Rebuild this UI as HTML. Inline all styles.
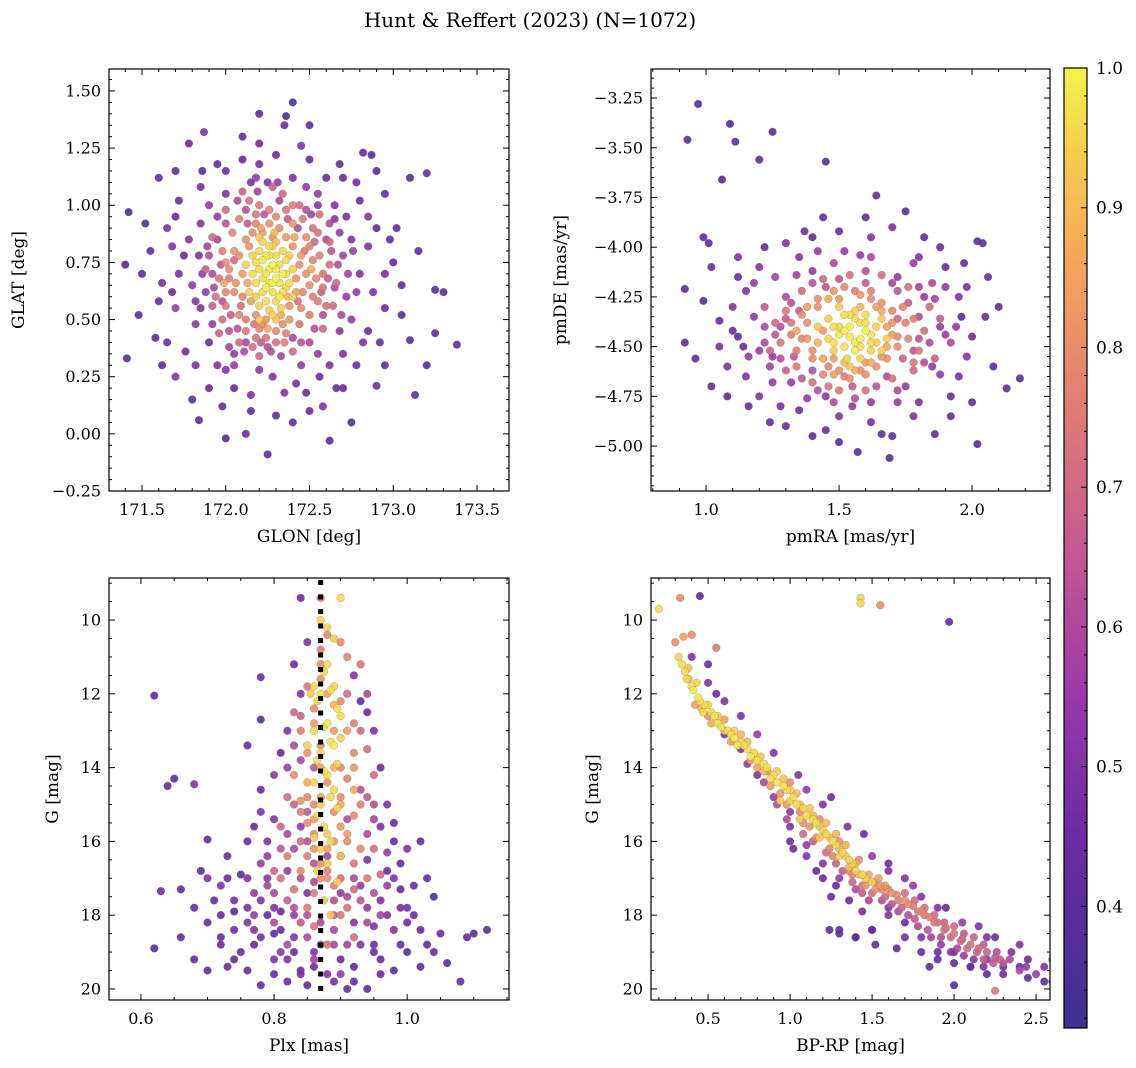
<!DOCTYPE html>
<html><head><meta charset="utf-8">
<style>
html,body{margin:0;padding:0;background:#fff;}
svg{display:block;font-family:"DejaVu Serif","Liberation Serif",serif;}
</style></head>
<body>
<svg id="fig" width="1136" height="1068" viewBox="0 0 1136 1068" xmlns="http://www.w3.org/2000/svg">
<defs>
<linearGradient id="cbg" x1="0" y1="1" x2="0" y2="0">
<stop offset="0" stop-color="#3d3291"/>
<stop offset="0.2" stop-color="#6b2aa2"/>
<stop offset="0.35" stop-color="#9a3aa8"/>
<stop offset="0.5" stop-color="#c45a90"/>
<stop offset="0.65" stop-color="#e07e74"/>
<stop offset="0.8" stop-color="#f5a65c"/>
<stop offset="0.92" stop-color="#f6d04e"/>
<stop offset="1" stop-color="#f2f44c"/>
</linearGradient>
</defs>
<text x="530" y="27" font-size="20" text-anchor="middle">Hunt &amp; Reffert (2023) (N=1072)</text>
</svg>
<script>
// ---------- data ----------
const tlPoints = [
[171.42,0.97,.38],[171.40,0.74,.38],[171.41,0.33,.4],[171.48,0.52,.42],[171.60,1.12,.45],[171.58,0.42,.4],[171.70,0.25,.5],[171.75,0.78,.45],[171.78,1.27,.45],[171.84,0.06,.42],[171.87,1.32,.5],[171.86,1.15,.4],[171.90,0.40,.45],[172.12,0.00,.45],[172.15,0.17,.5],[172.25,-0.09,.4],[172.20,1.27,.45],[172.35,1.35,.45],[172.40,1.45,.38],[172.36,1.39,.4],[172.45,1.26,.5],[172.50,0.10,.45],[172.62,-0.03,.4],[172.58,0.12,.5],[172.70,1.12,.45],[172.82,1.23,.45],[172.87,1.22,.4],[172.90,0.21,.45],[173.10,1.12,.4],[173.13,0.17,.4],[173.20,1.14,.45],[173.25,0.63,.4],[173.30,0.62,.4],[173.38,0.39,.4],[173.25,0.44,.45],[173.10,0.41,.4],[172.95,0.55,.45],[173.00,0.75,.45],[172.85,0.95,.5],[172.90,0.90,.4],[171.65,0.90,.5],[171.70,0.55,.55],[171.95,0.30,.5],[172.05,0.20,.45],[172.35,0.18,.5],[172.45,0.30,.55],[172.70,0.35,.5],[172.75,0.50,.55],[172.80,0.70,.5],[172.65,1.00,.5],[172.55,1.05,.55],[172.00,1.05,.5],[171.90,1.00,.55],[171.80,0.65,.55],[172.25,1.10,.5],[172.10,1.20,.45],[172.60,0.85,.6],[171.95,0.85,.6],[172.05,0.35,.55],[172.50,0.40,.6],
[171.55,0.80,.42],[171.62,0.66,.48],[171.52,0.92,.4],[171.72,1.02,.44],[171.82,0.48,.52],[171.76,0.36,.46],[171.98,0.12,.44],[172.20,0.28,.52],[172.30,0.08,.42],[172.42,0.22,.48],[172.56,0.25,.46],[172.66,0.20,.42],[172.78,0.30,.44],[172.92,0.40,.42],[173.05,0.52,.4],[173.02,0.90,.42],[172.95,1.05,.44],[172.78,1.10,.46],[172.68,1.18,.42],[172.30,1.22,.46],[172.15,1.10,.5],[171.95,1.18,.42],[171.85,0.92,.5],[171.92,0.70,.6],[171.98,0.58,.62],[172.02,0.45,.64],[172.12,0.40,.6],[172.25,0.38,.62],[172.40,0.42,.6],[172.58,0.52,.62],[172.65,0.64,.6],[172.70,0.78,.58],[172.62,0.92,.6],[172.48,0.98,.62],[172.32,1.02,.6],[172.12,0.98,.62],[172.00,0.92,.64],[171.90,0.78,.62],
[172.00,0.75,.8],[172.05,0.62,.8],[172.08,0.52,.78],[172.12,0.85,.8],[172.18,0.92,.78],[172.22,0.48,.8],[172.30,0.45,.78],[172.38,0.50,.82],[172.45,0.55,.8],[172.50,0.65,.8],[172.52,0.76,.78],[172.48,0.86,.8],[172.40,0.92,.82],[172.30,0.95,.78],[172.05,0.80,.82],[172.10,0.70,.84],[172.15,0.58,.84],[172.42,0.62,.84],[172.45,0.78,.84],[172.36,0.86,.84],[172.22,0.88,.84],[172.02,0.68,.76],[172.55,0.58,.76],[172.58,0.70,.74],[172.35,0.40,.76],[172.18,0.42,.74],[172.00,0.56,.74],[172.40,1.00,.76],[172.20,1.00,.74],[172.55,0.88,.74],
[172.18,0.75,.96],[172.22,0.68,.97],[172.26,0.72,.98],[172.30,0.78,.97],[172.34,0.70,.99],[172.28,0.62,.97],[172.24,0.58,.96],[172.32,0.60,.98],[172.38,0.66,.96],[172.36,0.76,.97],[172.20,0.80,.96],[172.16,0.70,.96],[172.26,0.82,.96],[172.30,0.68,1.0],[172.24,0.64,.99],[172.40,0.72,.95],[172.14,0.62,.95],[172.33,0.55,.95],[172.28,0.52,.95],[172.20,0.56,.94],
[172.02,0.72,.8],[172.06,0.66,.82],[172.08,0.78,.8],[172.10,0.60,.78],[172.12,0.50,.76],[172.14,0.82,.82],[172.16,0.88,.8],[172.18,0.52,.8],[172.20,0.46,.78],[172.24,0.50,.82],[172.26,0.92,.8],[172.28,0.86,.82],[172.32,0.90,.8],[172.34,0.48,.8],[172.38,0.56,.82],[172.40,0.82,.8],[172.42,0.68,.82],[172.44,0.74,.8],[172.46,0.62,.78],[172.48,0.70,.8],[172.50,0.82,.78],[172.52,0.60,.76],[172.54,0.68,.78],[172.56,0.78,.76],[172.58,0.64,.74],[172.60,0.56,.72],[172.62,0.74,.72],[172.00,0.62,.78],[171.98,0.80,.76],[171.96,0.68,.74],[171.94,0.60,.72],[171.98,0.50,.72],[172.04,0.88,.78],[172.08,0.94,.76],[172.12,0.45,.74],[172.16,0.38,.72],[172.24,0.42,.74],[172.30,0.40,.72],[172.36,0.44,.76],[172.44,0.48,.74],[172.50,0.52,.76],[172.52,0.90,.74],[172.46,0.94,.76],[172.36,0.98,.74],[172.26,0.98,.76],[172.18,0.96,.74],[172.14,1.02,.72],[172.34,1.05,.7],[172.44,1.00,.72],[172.56,0.96,.72],[172.62,0.84,.7],[172.66,0.66,.7],[172.64,0.56,.7],[172.58,0.46,.7],[172.40,0.36,.7],[172.20,0.34,.7],[172.08,0.40,.7],[171.96,0.44,.68],[171.92,0.56,.68],[171.88,0.72,.68],[171.92,0.86,.7],[172.00,0.98,.7],[172.10,1.06,.68],[172.28,1.08,.68],
[172.20,0.72,.97],[172.24,0.78,.98],[172.28,0.74,.99],[172.32,0.66,.98],[172.26,0.66,.97],[172.22,0.62,.96],[172.30,0.58,.96],[172.34,0.62,.97],[172.36,0.70,.96],[172.34,0.80,.96],[172.28,0.82,.95],[172.22,0.84,.95],[172.18,0.66,.96],[172.16,0.78,.95],[172.12,0.74,.94],[172.40,0.60,.94],[172.38,0.78,.94],[172.26,0.54,.94],[172.20,0.50,.93],[172.30,0.50,.93],
[171.85,0.55,.5],[171.78,0.85,.5],[171.72,0.70,.48],[171.68,0.62,.45],[171.82,0.30,.48],[172.00,0.28,.5],[172.28,0.25,.5],[172.48,0.18,.45],[172.62,0.30,.5],[172.85,0.45,.45],[172.88,0.62,.48],[172.75,0.85,.5],[172.72,0.95,.48],[172.60,1.12,.45],[172.40,1.12,.5],[172.20,1.18,.48],[172.00,1.15,.45],[171.85,1.08,.48],[171.70,0.95,.45],[171.65,0.40,.45],[171.90,0.20,.45],[172.15,0.10,.42],[172.40,0.05,.42],[172.70,0.20,.45],[172.95,0.30,.42],[173.05,0.65,.42],[172.98,0.85,.42],[172.80,1.02,.45],[172.50,1.20,.42],[172.10,1.30,.42],[171.95,0.95,.55],[171.88,0.62,.55],[172.05,0.30,.55],[172.55,0.35,.55],[172.72,0.60,.55],[172.68,0.88,.55],[172.48,1.08,.55],[172.18,1.12,.55],
[172.05,0.76,.7],[172.09,0.56,.72],[172.13,0.66,.86],[172.17,0.48,.74],[172.21,0.90,.86],[172.25,0.46,.86],[172.29,0.88,.9],[172.33,0.52,.88],[172.37,0.60,.9],[172.41,0.86,.86],[172.43,0.58,.72],[172.47,0.80,.74],[172.51,0.72,.86],[172.53,0.84,.7],[172.57,0.62,.68],[172.61,0.68,.66],[172.63,0.80,.64],[172.67,0.74,.62],[172.69,0.52,.6],[172.73,0.70,.58],[172.76,0.80,.56],[172.78,0.62,.55],[171.99,0.66,.86],[171.97,0.74,.66],[171.93,0.64,.6],[171.89,0.82,.58],[171.86,0.70,.55],[171.84,0.78,.5],[171.82,0.58,.52],[172.03,0.52,.66],[172.07,0.46,.64],[172.11,0.36,.6],[172.21,0.40,.66],[172.27,0.36,.62],[172.33,0.34,.6],[172.45,0.40,.64],[172.53,0.46,.62],[172.13,0.92,.66],[172.23,0.96,.64],[172.37,0.94,.66],[172.43,0.90,.62],[172.51,0.96,.58],[172.31,1.10,.55],[172.19,1.06,.58],[172.07,1.02,.6],[172.55,1.00,.52],[172.65,0.94,.52],[172.68,0.45,.52],[172.02,0.38,.58],[171.92,0.48,.55],
[172.22,0.76,.99],[172.26,0.78,.97],[172.30,0.72,.98],[172.24,0.70,.98],[172.28,0.66,.99],[172.32,0.74,.96],[172.18,0.60,.94],[172.36,0.64,.95],[172.20,0.86,.93],[172.30,0.84,.92],
[171.50,0.70,.4],[171.62,0.30,.4],[171.70,1.15,.42],[171.80,0.15,.4],[172.00,-0.02,.4],[172.20,1.40,.4],[172.50,1.35,.42],[172.75,0.05,.4],[172.90,1.15,.4],[173.15,0.80,.42],[173.20,0.30,.4],[172.95,0.70,.48],[172.85,0.82,.5],[172.82,0.40,.5],[171.60,0.58,.45],[171.68,0.82,.5]
];
const trPoints = [
[0.97,-3.28,.38],[0.93,-3.46,.4],[1.09,-3.38,.4],[1.11,-3.47,.42],[1.25,-3.42,.4],[1.20,-3.56,.42],[1.45,-3.57,.4],[1.64,-3.74,.42],[1.06,-3.66,.4],[0.99,-3.95,.42],[1.01,-3.98,.4],[0.92,-4.21,.4],[0.92,-4.48,.38],[0.96,-4.56,.42],[0.99,-4.27,.4],[1.12,-4.45,.4],[1.24,-4.88,.42],[1.40,-4.95,.4],[1.57,-5.03,.4],[1.66,-4.94,.42],[1.69,-5.06,.38],[1.86,-4.94,.42],[2.02,-4.99,.4],[2.18,-4.66,.4],[2.13,-4.71,.42],[2.04,-3.98,.4],[2.02,-3.97,.4],[1.97,-4.08,.42],[1.75,-3.82,.4],[1.44,-3.85,.45],[1.37,-3.92,.45],[1.30,-3.98,.5],[1.12,-4.05,.5],[1.15,-4.22,.5],[1.05,-4.37,.45],[1.08,-4.60,.5],[1.20,-4.75,.5],[1.35,-4.82,.45],[1.50,-4.85,.5],[1.78,-4.85,.5],[1.92,-4.75,.45],[1.98,-4.55,.5],[2.05,-4.35,.45],[1.95,-4.25,.5],[1.90,-4.10,.45],[1.80,-4.05,.5],[1.62,-3.95,.5],[1.52,-4.02,.55],[1.02,-4.10,.45],[1.18,-4.35,.55],[1.25,-4.55,.55],[1.32,-4.68,.55],[1.45,-4.75,.55],[1.62,-4.78,.55],[1.75,-4.70,.55],[1.85,-4.60,.55],[1.88,-4.40,.55],[1.82,-4.25,.55],[1.72,-4.15,.55],[1.40,-4.12,.55],[1.30,-4.25,.6],
[1.28,-4.40,.62],[1.33,-4.55,.64],[1.40,-4.62,.62],[1.55,-4.70,.66],[1.68,-4.65,.62],[1.78,-4.52,.64],[1.80,-4.35,.62],[1.72,-4.22,.64],[1.60,-4.18,.66],[1.45,-4.20,.64],[1.35,-4.32,.66],[1.22,-4.48,.6],[1.92,-4.48,.6],[1.85,-4.18,.6],[1.48,-4.08,.6],[1.62,-4.05,.6],
[1.38,-4.38,.8],[1.40,-4.52,.8],[1.46,-4.60,.78],[1.58,-4.62,.8],[1.66,-4.55,.82],[1.72,-4.45,.8],[1.70,-4.32,.78],[1.62,-4.26,.8],[1.50,-4.26,.82],[1.42,-4.30,.8],[1.36,-4.46,.78],[1.52,-4.65,.76],[1.75,-4.38,.76],[1.56,-4.22,.76],[1.44,-4.42,.84],[1.68,-4.40,.84],[1.60,-4.58,.84],[1.48,-4.56,.84],[1.64,-4.30,.84],[1.32,-4.38,.74],[1.78,-4.58,.74],[1.46,-4.70,.74],
[1.50,-4.40,.96],[1.54,-4.45,.98],[1.58,-4.38,.97],[1.62,-4.48,.96],[1.56,-4.52,.99],[1.52,-4.34,.97],[1.60,-4.42,1.0],[1.48,-4.48,.96],[1.64,-4.40,.95],[1.56,-4.32,.95],[1.66,-4.52,.95],[1.46,-4.36,.94],[1.53,-4.56,.95],[1.58,-4.46,.99],
[1.36,-4.34,.8],[1.38,-4.46,.82],[1.40,-4.56,.8],[1.42,-4.26,.8],[1.44,-4.64,.78],[1.48,-4.22,.82],[1.50,-4.62,.8],[1.52,-4.20,.78],[1.54,-4.66,.8],[1.58,-4.24,.82],[1.60,-4.64,.8],[1.62,-4.22,.78],[1.64,-4.60,.82],[1.66,-4.28,.8],[1.68,-4.56,.8],[1.70,-4.38,.82],[1.72,-4.50,.8],[1.74,-4.30,.78],[1.76,-4.46,.78],[1.78,-4.36,.76],[1.80,-4.52,.74],[1.34,-4.52,.76],[1.32,-4.44,.76],[1.30,-4.32,.74],[1.28,-4.48,.72],[1.34,-4.60,.74],[1.40,-4.68,.72],[1.50,-4.72,.74],[1.60,-4.72,.72],[1.70,-4.66,.72],[1.78,-4.62,.7],[1.82,-4.42,.72],[1.84,-4.30,.7],[1.76,-4.20,.72],[1.66,-4.14,.7],[1.54,-4.14,.72],[1.44,-4.16,.7],[1.36,-4.22,.7],[1.26,-4.38,.7],[1.24,-4.52,.68],[1.30,-4.62,.68],[1.86,-4.56,.68],[1.88,-4.36,.66],[1.22,-4.30,.66],
[1.50,-4.44,.98],[1.54,-4.40,.99],[1.58,-4.50,.97],[1.62,-4.44,.98],[1.56,-4.36,.96],[1.52,-4.50,.97],[1.48,-4.40,.96],[1.60,-4.34,.96],[1.64,-4.48,.95],[1.46,-4.46,.95],[1.58,-4.56,.95],[1.50,-4.30,.94],[1.66,-4.36,.94],[1.42,-4.40,.93],[1.54,-4.60,.93],[1.68,-4.46,.94],
[1.20,-4.10,.5],[1.10,-4.30,.5],[1.05,-4.50,.48],[1.15,-4.65,.5],[1.28,-4.80,.48],[1.45,-4.92,.45],[1.62,-4.88,.48],[1.80,-4.78,.5],[1.95,-4.65,.48],[2.00,-4.45,.45],[1.98,-4.20,.48],[1.88,-4.00,.45],[1.70,-3.90,.48],[1.50,-3.92,.45],[1.35,-4.05,.5],[1.18,-4.18,.55],[1.16,-4.55,.55],[1.25,-4.68,.55],[1.38,-4.76,.55],[1.55,-4.80,.55],[1.72,-4.78,.55],[1.88,-4.64,.55],[1.94,-4.40,.55],[1.90,-4.20,.55],[1.78,-4.08,.55],[1.58,-4.04,.55],[1.42,-4.02,.55],[1.26,-4.15,.58],[1.10,-4.42,.45],[2.08,-4.60,.42],[2.10,-4.30,.42],[1.02,-4.70,.42],
[1.34,-4.42,.86],[1.38,-4.30,.84],[1.42,-4.48,.88],[1.44,-4.56,.86],[1.46,-4.26,.86],[1.48,-4.64,.84],[1.52,-4.58,.9],[1.56,-4.62,.88],[1.58,-4.30,.9],[1.62,-4.58,.88],[1.66,-4.32,.86],[1.68,-4.50,.86],[1.70,-4.44,.84],[1.72,-4.36,.7],[1.74,-4.56,.68],[1.76,-4.28,.66],[1.80,-4.46,.64],[1.82,-4.58,.62],[1.84,-4.48,.6],[1.86,-4.26,.58],[1.90,-4.44,.56],[1.26,-4.44,.64],[1.28,-4.56,.62],[1.30,-4.36,.66],[1.32,-4.28,.62],[1.24,-4.60,.58],[1.22,-4.40,.6],[1.20,-4.52,.56],[1.36,-4.66,.64],[1.42,-4.72,.62],[1.48,-4.78,.6],[1.56,-4.76,.62],[1.64,-4.70,.64],[1.72,-4.72,.6],[1.40,-4.18,.62],[1.50,-4.16,.64],[1.60,-4.12,.62],[1.70,-4.18,.6],[1.80,-4.20,.58],[1.34,-4.14,.58],
[1.52,-4.42,.99],[1.56,-4.48,.98],[1.60,-4.38,.97],[1.54,-4.34,.96],[1.62,-4.52,.95],[1.48,-4.52,.94],
[1.14,-4.50,.45],[1.12,-4.15,.45],[1.22,-4.00,.42],[1.40,-3.95,.42],[1.60,-3.85,.42],[1.82,-3.95,.42],[1.96,-4.35,.42],[1.92,-4.85,.42],[1.70,-4.95,.42],[1.50,-4.98,.4],[1.30,-4.90,.42],[1.08,-4.75,.4],[2.00,-4.78,.42],[1.16,-4.80,.45],[2.06,-4.15,.45]
];
const blPoints = [
[0.62,12.05,.4],[0.64,14.50,.42],[0.65,14.30,.4],[0.68,14.45,.5],[0.63,17.35,.45],[0.62,18.90,.4],[0.66,17.30,.42],[0.70,15.95,.4],[0.70,19.50,.42],[0.72,18.80,.45],[0.74,17.90,.4],[0.76,13.40,.45],[0.78,11.55,.45],[0.78,12.70,.42],[0.80,18.50,.4],[0.82,19.80,.45],[0.84,9.40,.45],[0.85,10.60,.5],[0.94,20.00,.42],[0.96,19.60,.45],[1.00,19.00,.4],[1.02,16.00,.42],[1.04,17.50,.4],[1.05,18.50,.45],[1.06,19.30,.4],[1.08,19.80,.42],[1.10,18.50,.4],[1.12,18.40,.4],[1.09,18.60,.45],[1.03,17.00,.42],[0.98,15.50,.45],[0.96,14.00,.45],[0.94,12.50,.45],[0.92,11.50,.5],[0.95,13.00,.5],
[0.68,17.80,.45],[0.72,17.20,.5],[0.74,18.40,.45],[0.76,17.00,.5],[0.77,18.80,.45],[0.78,17.60,.5],[0.79,16.40,.55],[0.80,19.20,.5],[0.81,17.90,.45],[0.82,16.80,.55],[0.83,18.60,.5],[0.84,15.60,.55],[0.85,17.40,.5],[0.86,19.00,.5],[0.90,19.20,.45],[0.92,18.20,.5],[0.93,17.20,.55],[0.94,16.50,.5],[0.95,18.80,.45],[0.96,17.60,.5],[0.97,16.80,.45],[0.98,18.40,.5],[0.99,17.30,.45],[1.00,16.20,.5],[1.01,18.00,.45],[1.02,19.40,.42],[0.97,15.00,.5],[0.78,15.20,.5],[0.76,16.00,.45],[0.80,14.20,.55],[0.82,13.00,.5],[0.73,16.40,.45],[0.70,18.20,.45],[0.88,19.60,.5],[0.91,20.00,.45],[0.84,19.50,.45],
[0.83,16.20,.6],[0.84,17.00,.62],[0.85,15.20,.64],[0.86,16.60,.62],[0.87,18.20,.6],[0.89,17.60,.62],[0.90,16.40,.64],[0.91,15.40,.62],[0.92,17.00,.6],[0.93,14.60,.62],[0.89,18.80,.6],[0.86,14.00,.64],[0.84,13.80,.6],[0.94,15.80,.6],[0.82,15.80,.6],[0.85,18.00,.62],
[0.85,14.80,.78],[0.86,15.80,.8],[0.87,13.40,.8],[0.88,14.40,.82],[0.89,15.20,.8],[0.90,14.00,.78],[0.91,16.00,.8],[0.92,13.60,.78],[0.86,12.40,.8],[0.87,11.60,.82],[0.90,12.20,.8],[0.88,16.80,.78],[0.89,17.20,.76],[0.86,17.40,.76],[0.91,17.80,.74],[0.84,15.20,.76],[0.93,15.00,.76],[0.88,10.40,.78],[0.90,10.60,.8],[0.87,11.20,.8],[0.89,13.00,.84],[0.87,14.80,.84],[0.90,15.60,.82],[0.85,16.40,.76],[0.92,16.60,.74],[0.87,9.40,.78],[0.91,11.00,.78],
[0.87,12.00,.97],[0.88,12.80,.98],[0.87,13.60,.96],[0.88,14.20,.97],[0.86,13.00,.96],[0.89,11.80,.95],[0.88,11.20,.96],[0.87,15.00,.95],[0.89,14.60,.96],[0.88,15.80,.95],[0.86,14.40,.95],[0.89,13.40,.99],[0.88,10.20,.95],[0.90,9.40,.96],[0.88,16.60,.94],[0.87,16.20,.95],[0.85,13.40,.95],[0.90,12.60,.96],
[0.875,11.4,.96],[0.885,11.9,.97],[0.865,12.2,.95],[0.895,12.4,.96],[0.875,12.9,.97],[0.885,13.3,.98],[0.865,13.8,.96],[0.895,13.9,.95],[0.875,14.1,.97],[0.885,14.8,.96],[0.865,15.3,.95],[0.895,15.1,.95],[0.875,15.6,.96],[0.885,16.0,.95],[0.865,16.8,.94],[0.895,17.1,.94],[0.875,17.6,.93],[0.885,18.0,.93],[0.86,15.9,.94],[0.90,13.2,.95],[0.855,12.0,.94],[0.90,16.4,.93],[0.87,10.0,.95],[0.89,10.5,.94],[0.86,11.8,.95],
[0.83,14.2,.8],[0.84,14.9,.82],[0.85,15.5,.8],[0.86,15.0,.78],[0.87,16.6,.8],[0.88,17.0,.8],[0.89,16.0,.82],[0.90,14.8,.8],[0.91,14.3,.78],[0.92,15.3,.8],[0.93,16.2,.78],[0.94,17.0,.76],[0.84,16.8,.78],[0.85,17.8,.76],[0.83,17.3,.74],[0.82,16.4,.76],[0.86,18.3,.74],[0.90,18.0,.74],[0.92,18.6,.72],[0.88,18.8,.72],[0.81,17.0,.72],[0.80,16.8,.7],[0.95,16.2,.72],[0.96,16.9,.7],[0.84,13.0,.76],[0.92,12.8,.76],[0.85,11.8,.74],[0.91,12.0,.72],[0.87,10.8,.76],[0.83,12.5,.7],[0.94,13.5,.72],[0.95,14.2,.7],[0.82,14.8,.72],[0.81,15.6,.7],[0.93,11.2,.74],
[0.70,17.0,.5],[0.72,18.0,.45],[0.74,17.6,.48],[0.75,19.0,.45],[0.76,18.2,.5],[0.77,17.4,.55],[0.78,18.6,.48],[0.79,17.0,.52],[0.80,17.8,.5],[0.81,18.4,.45],[0.82,19.2,.5],[0.83,18.0,.55],[0.84,19.6,.48],[0.86,19.4,.45],[0.89,19.8,.48],[0.90,17.4,.55],[0.92,19.4,.45],[0.93,18.8,.5],[0.94,17.8,.55],[0.95,18.3,.5],[0.96,19.2,.45],[0.97,18.0,.5],[0.98,17.0,.5],[0.99,18.8,.45],[1.00,17.8,.48],[1.02,18.4,.45],[1.04,19.0,.45],[0.66,18.6,.42],[0.68,19.2,.42],[0.73,19.4,.45],[0.78,19.9,.42],[0.79,16.0,.5],[0.80,15.4,.5],[0.96,15.6,.5],[0.97,16.3,.55],[0.99,16.6,.45],[0.75,16.9,.42],[0.71,17.6,.42],[0.81,13.6,.45],[0.83,11.2,.45],[0.93,12.2,.45],[0.84,12.0,.5],[0.88,16.4,.6],[0.86,17.1,.6],[0.91,17.5,.6],[0.85,16.0,.62],[0.89,18.4,.6],[0.82,18.8,.6],
[0.85,14.4,.86],[0.86,15.4,.84],[0.87,14.0,.86],[0.89,14.0,.88],[0.90,15.0,.86],[0.91,15.8,.84],[0.92,14.0,.82],[0.88,16.2,.84],[0.87,17.0,.8],[0.86,16.2,.82],[0.84,16.0,.7],[0.83,15.0,.68],[0.82,17.6,.66],[0.81,16.2,.64],[0.80,17.4,.6],[0.94,14.8,.66],[0.95,15.0,.62],[0.93,17.6,.64],[0.94,18.2,.6],[0.91,18.8,.58],[0.85,18.6,.6],[0.84,18.2,.66],[0.83,17.8,.62],[0.92,17.3,.7],[0.90,17.0,.72],[0.89,18.0,.68],[0.87,18.8,.62],[0.86,19.2,.58],[0.90,19.6,.55],[0.95,17.4,.62],[0.96,18.0,.58],[0.97,17.2,.56],[0.79,17.2,.58],[0.78,16.6,.56],[0.77,18.0,.55],[0.80,18.2,.6],[0.81,19.0,.52],[0.88,12.0,.86],[0.86,12.8,.84],[0.91,13.0,.84],[0.89,12.3,.9],[0.85,13.6,.82],[0.92,14.6,.86],[0.93,13.0,.7],[0.84,12.6,.68],[0.94,12.0,.6],[0.83,13.4,.6],[0.95,15.4,.58],[0.82,14.0,.56],
[0.72,18.6,.42],[0.74,19.2,.42],[0.76,19.5,.45],[0.77,18.4,.5],[0.79,18.0,.45],[0.80,19.6,.42],[0.83,19.0,.45],[0.85,19.9,.42],[0.92,19.8,.42],[0.95,19.0,.45],[0.98,19.5,.42],[1.00,18.2,.45],[1.01,17.2,.42],[1.03,18.8,.42],[0.69,16.8,.42],[0.73,17.0,.45],[0.76,17.8,.48],[0.98,16.0,.45],[0.99,17.8,.48],[0.77,15.6,.45],[0.78,14.6,.45]
];
const brPoints = [
[0.20,9.70,.97],[0.33,9.40,.8],[0.45,9.35,.4],[1.43,9.40,.95],[1.43,9.55,.95],[1.55,9.60,.8],[1.97,10.05,.45],[0.30,10.60,.8],[0.35,10.45,.85],[0.40,10.40,.8],[0.55,10.75,.75],
[0.32,11.00,.95],[0.36,11.40,.96],[0.40,11.80,.97],[0.44,12.10,.98],[0.48,12.30,.97],[0.52,12.50,.96],[0.56,12.80,.97],[0.62,13.00,.96],[0.66,13.20,.98],[0.72,13.40,.97],[0.78,13.60,.96],[0.84,13.90,.97],[0.90,14.20,.96],[0.96,14.50,.97],[1.02,14.80,.96],[1.08,15.10,.95],[1.14,15.40,.96],[1.20,15.70,.95],[1.26,16.00,.96],[1.32,16.30,.95],[1.38,16.60,.94],[1.44,16.90,.95],[1.50,17.10,.94],[0.38,11.60,.9],[0.42,12.30,.85],[0.50,12.60,.8],[0.60,12.70,.85],[0.70,13.10,.9],[0.76,13.80,.85],[0.86,14.10,.8],[0.94,14.70,.82],[1.00,14.40,.8],[1.06,15.20,.8],[1.12,15.60,.82],[1.18,15.40,.8],[1.24,16.20,.78],[1.30,16.00,.8],[1.36,16.80,.78],[1.42,16.50,.8],
[1.55,17.20,.82],[1.60,17.30,.8],[1.65,17.45,.78],[1.70,17.60,.8],[1.75,17.75,.76],[1.80,17.90,.78],[1.85,18.05,.76],[1.90,18.20,.74],[1.95,18.35,.72],[2.00,18.50,.74],[2.05,18.65,.7],[2.10,18.80,.72],[2.15,18.90,.7],[2.20,19.00,.68],[2.25,19.15,.66],[2.30,19.30,.64],[2.40,19.50,.6],[2.50,19.60,.55],[2.60,19.80,.5],[2.70,19.50,.45],[2.72,19.95,.45],[2.25,20.05,.75],
[1.40,17.30,.6],[1.30,17.00,.55],[1.20,16.60,.5],[1.10,16.10,.55],[1.00,15.60,.5],[1.60,17.80,.5],[1.70,18.20,.45],[1.80,18.60,.5],[1.90,19.00,.45],[2.00,19.30,.42],[2.10,19.40,.45],[2.20,19.60,.4],[1.50,18.40,.45],[1.40,18.60,.42],[1.30,18.40,.4],[1.50,16.40,.55],[1.60,16.80,.5],[1.35,15.60,.5],[1.20,15.00,.5],[1.10,14.60,.55],[0.90,13.60,.5],[0.80,13.10,.55],[0.60,12.20,.5],[0.50,11.70,.5],[1.75,17.20,.55],[1.90,17.80,.5],[2.05,18.20,.55],[2.20,18.60,.5],[2.35,19.00,.5],[2.45,19.20,.45],[2.00,19.90,.4],[1.65,18.90,.42],[1.85,19.40,.4],[2.30,19.60,.45],[1.45,15.80,.45],[1.25,14.80,.45],[1.05,14.20,.5],[0.70,12.60,.5],[2.55,19.40,.5],[2.40,18.80,.5],
[0.34,11.2,.97],[0.37,11.6,.96],[0.41,11.9,.98],[0.45,12.2,.97],[0.47,12.5,.96],[0.54,12.6,.98],[0.58,12.9,.97],[0.64,13.1,.96],[0.68,13.4,.97],[0.74,13.5,.96],[0.76,13.7,.98],[0.80,13.8,.96],[0.86,14.0,.97],[0.88,14.3,.96],[0.92,14.4,.97],[0.98,14.6,.96],[1.00,14.9,.95],[1.04,15.0,.96],[1.10,15.3,.95],[1.16,15.5,.96],[1.22,15.8,.95],[1.28,16.1,.95],[1.34,16.4,.94],[1.40,16.8,.94],[1.46,17.0,.93],[1.36,16.5,.95],[1.30,16.4,.94],[1.18,15.9,.93],[1.06,15.4,.93],[0.94,14.9,.93],
[1.52,17.1,.8],[1.56,17.3,.78],[1.62,17.4,.8],[1.66,17.6,.76],[1.72,17.7,.78],[1.78,17.9,.76],[1.82,18.0,.74],[1.88,18.2,.74],[1.94,18.4,.72],[1.98,18.6,.7],[2.04,18.7,.7],[2.08,18.9,.7],[2.14,19.0,.68],[2.18,19.2,.66],[2.24,19.3,.64],[2.28,19.2,.66],[1.58,17.5,.7],[1.68,17.8,.68],[1.76,18.1,.66],[1.84,18.4,.64],[1.92,18.6,.62],[2.02,18.9,.6],[1.50,17.4,.72],[1.44,17.2,.74],[1.38,16.9,.76],[1.26,16.4,.78],[1.16,15.9,.8],[1.08,15.5,.8],[0.98,15.0,.82],[0.88,14.5,.84],[0.80,14.0,.86],[0.64,13.3,.84],[0.52,12.8,.86],
[1.10,16.4,.5],[1.20,17.0,.45],[1.25,17.5,.45],[1.30,18.5,.42],[1.40,18.6,.42],[1.50,18.4,.45],[1.60,18.0,.5],[1.70,18.6,.48],[1.80,19.0,.45],[1.90,19.2,.42],[2.00,19.0,.45],[2.10,19.4,.45],[2.20,19.2,.5],[2.30,19.4,.45],[2.40,19.4,.45],[2.45,19.7,.42],[2.55,19.8,.42],[2.60,19.2,.5],[0.70,13.5,.5],[0.60,13.1,.5],[0.80,14.2,.5],[0.90,14.8,.55],[1.00,15.2,.55],[1.00,16.0,.45],[1.60,16.6,.45],[1.70,17.0,.5],[1.80,17.5,.5],[1.95,17.8,.45],[2.15,18.3,.5],[2.25,18.6,.45],[0.40,11.0,.5],[0.50,11.2,.45],[0.55,12.0,.45],
[0.38,11.3,.92],[0.43,11.7,.95],[0.46,12.4,.9],[0.50,12.3,.96],[0.56,12.6,.94],[0.60,13.0,.92],[0.66,13.0,.95],[0.70,13.3,.94],[0.74,13.3,.9],[0.82,13.7,.93],[0.84,14.1,.9],[0.92,14.1,.94],[0.96,14.3,.92],[1.00,14.6,.94],[1.04,14.7,.9],[1.06,15.0,.92],[1.12,15.1,.93],[1.14,15.3,.9],[1.18,15.6,.93],[1.22,15.5,.9],[1.24,15.9,.92],[1.28,15.8,.88],[1.30,16.2,.9],[1.34,16.1,.88],[1.36,16.7,.9],[1.40,16.6,.88],[1.42,16.9,.9],[1.48,16.9,.86],[1.46,17.2,.82],[1.52,17.3,.8],[1.54,17.0,.84],[1.58,17.2,.82],[1.08,15.8,.7],[1.14,16.0,.66],[1.22,16.3,.7],[1.28,16.6,.68],[1.32,16.8,.66],[1.38,17.1,.68],[1.44,17.4,.66],[1.48,17.6,.6],[1.56,17.6,.62],[1.62,17.7,.64],[1.66,17.9,.6],[1.72,18.0,.62],[1.78,18.3,.6],[1.86,18.6,.58],[1.92,18.8,.55],[1.98,19.0,.52],[2.06,19.1,.55],[2.12,19.2,.52],[2.18,19.4,.5],[1.70,17.4,.72],[1.76,17.6,.7],[1.82,17.8,.72],[1.88,18.0,.7],[1.94,18.2,.68],[2.00,18.3,.7],[2.06,18.5,.66],[2.12,18.6,.68],[2.18,18.8,.64],[2.26,19.0,.62],[2.34,19.2,.6],[2.44,19.4,.55],[0.98,15.4,.6],[0.92,15.0,.62],[0.84,14.4,.6],[0.74,13.9,.55],[1.02,16.2,.45],[1.16,16.8,.42],[1.28,17.2,.45],[1.36,17.6,.45],[1.44,17.9,.48],[1.24,18.4,.42],[1.52,18.8,.42]
];
const cbTicks = [0.4,0.5,0.6,0.7,0.8,0.9,1.0];
const cbMin = 0.313, cbMax = 1.0;

// ---------- helpers ----------
const NS = "http://www.w3.org/2000/svg";
const fig = document.getElementById('fig');
function mk(tag, attrs, parent){const e=document.createElementNS(NS,tag);for(const k in attrs)e.setAttribute(k,attrs[k]);(parent||fig).appendChild(e);return e;}
const stops=[[0,[61,50,145]],[0.2,[107,42,162]],[0.35,[154,58,168]],[0.5,[196,90,144]],[0.65,[224,126,116]],[0.8,[245,166,92]],[0.92,[246,208,78]],[1,[242,244,76]]];
function cmap(p){let t=(p-cbMin)/(cbMax-cbMin);t=Math.max(0,Math.min(1,t));for(let i=1;i<stops.length;i++){if(t<=stops[i][0]){const a=stops[i-1],b=stops[i];const f=(t-a[0])/(b[0]-a[0]);const c=a[1].map((v,j)=>Math.round(v+(b[1][j]-v)*f));return `rgb(${c[0]},${c[1]},${c[2]})`;}}return 'rgb(242,244,76)';}
function fmt(v,d){return v.toFixed(d).replace('-','\u2212');}

function panel(cfg){
  const {name,x0,x1,y0,y1,xmin,xmax,ymin,ymax,invert,xMaj,xMin,yMaj,yMin,xd,yd,xlabel,ylabel,pts}=cfg;
  const g=mk('g',{});
  
  
  const sx=v=>x0+(v-xmin)/(xmax-xmin)*(x1-x0);
  const sy=invert?(v=>y0+(v-ymin)/(ymax-ymin)*(y1-y0)):(v=>y1-(v-ymin)/(ymax-ymin)*(y1-y0));
  const cid='clip-'+name;
  const cp=mk('clipPath',{id:cid},g);mk('rect',{x:x0,y:y0,width:x1-x0,height:y1-y0},cp);
  const pg=mk('g',{'clip-path':`url(#${cid})`},g);
  
  
  const sorted=pts.slice().sort((a,b)=>a[2]-b[2]);
  for(const p of sorted){
    const c=mk('circle',{cx:sx(p[0]),cy:sy(p[1]),r:3.9,fill:cmap(p[2]),'fill-opacity':0.9,stroke:'#666','stroke-width':0.35,'stroke-opacity':0.7},pg);
    
    
  }
  if(cfg.vline!==undefined){
    const l=mk('line',{x1:sx(cfg.vline),x2:sx(cfg.vline),y1:y0+2,y2:y1,stroke:'#000','stroke-width':5,'stroke-dasharray':'5,9.5'},pg);
    
    
  }
  const tg=mk('g',{stroke:'#000','stroke-width':1},g);
  const eps=1e-9;
  for(let v=Math.ceil(xmin/xMin-eps)*xMin; v<=xmax+eps; v+=xMin){
    const X=sx(v);const major=Math.abs(v/xMaj-Math.round(v/xMaj))<1e-6;const L=major?6:3;
    mk('line',{x1:X,x2:X,y1:y1,y2:y1-L},tg);mk('line',{x1:X,x2:X,y1:y0,y2:y0+L},tg);
    if(major){const t=mk('text',{x:X,y:y1+24,'font-size':16,'text-anchor':'middle',stroke:'none',fill:'#000'},g);t.textContent=fmt(Math.round(v/xMaj)*xMaj,xd);
      }
  }
  const lo=Math.min(ymin,ymax),hi=Math.max(ymin,ymax);
  for(let v=Math.ceil(lo/yMin-eps)*yMin; v<=hi+eps; v+=yMin){
    const Y=sy(v);const major=Math.abs(v/yMaj-Math.round(v/yMaj))<1e-6;const L=major?6:3;
    mk('line',{x1:x0,x2:x0+L,y1:Y,y2:Y},tg);mk('line',{x1:x1,x2:x1-L,y1:Y,y2:Y},tg);
    if(major){const t=mk('text',{x:x0-8,y:Y+5.5,'font-size':16,'text-anchor':'end',stroke:'none',fill:'#000'},g);t.textContent=fmt(Math.round(v/yMaj)*yMaj,yd);
      }
  }
  const fr=mk('rect',{x:x0,y:y0,width:x1-x0,height:y1-y0,fill:'none',stroke:'#000','stroke-width':1.2},g);
  
  const xl=mk('text',{x:(x0+x1)/2,y:y1+51,'font-size':17,'text-anchor':'middle'},g);xl.textContent=xlabel;
  
  const yl=mk('text',{x:0,y:0,'font-size':17,'text-anchor':'middle',transform:`translate(${cfg.ylx},${(y0+y1)/2}) rotate(-90)`},g);yl.textContent=ylabel;
  
}

panel({name:'glon-glat-panel',x0:109,x1:509,y0:69,y1:491,xmin:171.303,xmax:173.691,ymin:-0.25,ymax:1.596,xMaj:0.5,xMin:0.1,yMaj:0.25,yMin:0.05,xd:1,yd:2,xlabel:'GLON [deg]',ylabel:'GLAT [deg]',ylx:24,pts:tlPoints});
panel({name:'proper-motion-panel',x0:651,x1:1050,y0:69,y1:491,xmin:0.793,xmax:2.293,ymin:-5.226,ymax:-3.104,xMaj:0.5,xMin:0.1,yMaj:0.25,yMin:0.05,xd:1,yd:2,xlabel:'pmRA [mas/yr]',ylabel:'pmDE [mas/yr]',ylx:566,pts:trPoints});
panel({name:'parallax-magnitude-panel',x0:109,x1:509,y0:578,y1:1000,xmin:0.552,xmax:1.153,ymin:8.86,ymax:20.30,invert:true,xMaj:0.2,xMin:0.05,yMaj:2,yMin:0.5,xd:1,yd:0,xlabel:'Plx [mas]',ylabel:'G [mag]',ylx:58,pts:blPoints,vline:0.87});
panel({name:'color-magnitude-panel',x0:651,x1:1050,y0:578,y1:1000,xmin:0.152,xmax:2.585,ymin:8.86,ymax:20.30,invert:true,xMaj:0.5,xMin:0.1,yMaj:2,yMin:0.5,xd:1,yd:0,xlabel:'BP-RP [mag]',ylabel:'G [mag]',ylx:598,pts:brPoints});

// colorbar
const cb=mk('g',{});


const cbx=1064,cbw=23,cbt=68,cbb=1028;
mk('rect',{x:cbx,y:cbt,width:cbw,height:cbb-cbt,fill:'url(#cbg)',stroke:'#000','stroke-width':1.2},cb);
const cy=v=>cbb-(v-cbMin)/(cbMax-cbMin)*(cbb-cbt);
for(let k=Math.ceil(cbMin/0.02);k*0.02<=cbMax+1e-9;k++){const v=k*0.02;const Y=cy(v);const major=k%5===0;mk('line',{x1:cbx+cbw,x2:cbx+cbw-(major?6:3),y1:Y,y2:Y,stroke:'#000','stroke-width':1},cb);}
for(const v of cbTicks){const t=mk('text',{x:cbx+cbw+9,y:cy(v)+6,'font-size':17},cb);t.textContent=v.toFixed(1);
  }
</script>
</body></html>
